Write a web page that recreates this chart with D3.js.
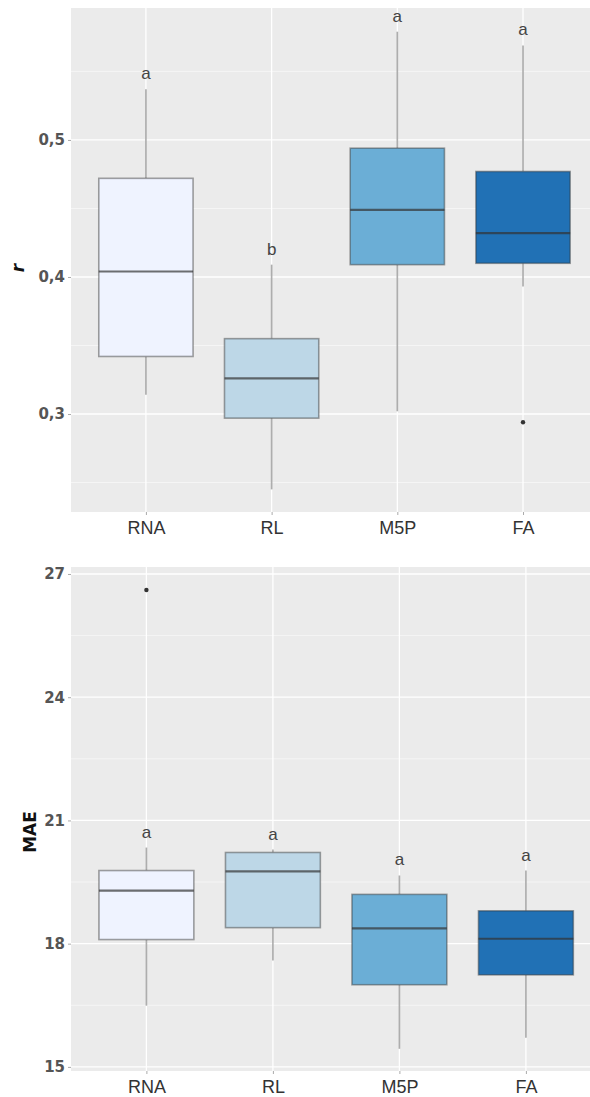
<!DOCTYPE html>
<html>
<head>
<meta charset="utf-8">
<script src="https://cdn.jsdelivr.net/npm/d3@7"></script>
<style>
  html, body { margin: 0; padding: 0; background: #fff; }
  svg { display: block; }
  text { font-family: "Liberation Sans", Arial, sans-serif; }
</style>
</head>
<body>
<div id="chart"></div>
<script>
// Models compared
const categories = ["RNA", "RL", "M5P", "FA"];
const fills = ["#eff3ff", "#bdd7e7", "#6baed6", "#2171b5"];

// Correlation coefficient r: five-number summaries per model
const rMin    = [0.314, 0.245, 0.302, 0.393];
const rQ1     = [0.342, 0.297, 0.409, 0.410];
const rMedian = [0.404, 0.326, 0.449, 0.432];
const rQ3     = [0.472, 0.355, 0.494, 0.477];
const rMax    = [0.537, 0.409, 0.579, 0.569];
const rOutliers = [{ cat: "FA", value: 0.294 }];
const rLetters  = ["a", "b", "a", "a"];
const rTicks    = [0.3, 0.4, 0.5];
const rTickLabels = ["0,3", "0,4", "0,5"];
const rMinor    = [0.25, 0.35, 0.45, 0.55];

// Mean absolute error: five-number summaries per model
const maeMin    = [16.49, 17.59, 15.44, 15.71];
const maeQ1     = [18.10, 18.39, 17.00, 17.24];
const maeMedian = [19.29, 19.76, 18.37, 18.12];
const maeQ3     = [19.78, 20.22, 19.20, 18.80];
const maeMax    = [20.34, 20.29, 19.66, 19.78];
const maeOutliers = [{ cat: "RNA", value: 26.61 }];
const maeLetters  = ["a", "a", "a", "a"];
const maeTicks    = [15, 18, 21, 24, 27];
const maeTickLabels = ["15", "18", "21", "24", "27"];
const maeMinor    = [16.5, 19.5, 22.5, 25.5];

const W = 590, H = 1097;
const svg = d3.select("#chart").append("svg")
  .attr("width", W).attr("height", H);

function panel(opts) {
  const { top, bottom, left, step, domain, stats, outliers, letters,
          ticks, tickLabels, minor, title, titleX, titleY, titleStyle } = opts;
  const right = left + step * 4.2;

  const x = d3.scalePoint().domain(categories).range([left, right]).padding(0.6);
  const y = d3.scaleLinear().domain(domain).range([bottom, top]);

  const g = svg.append("g");

  // panel background
  g.append("rect")
    .attr("x", left + 0.5).attr("y", top)
    .attr("width", right - left).attr("height", bottom - top)
    .attr("fill", "#ebebeb");

  // minor grid
  g.selectAll(".minor").data(minor).join("line")
    .attr("x1", left + 0.5).attr("x2", right)
    .attr("y1", d => y(d)).attr("y2", d => y(d))
    .attr("stroke", "#f5f5f5").attr("stroke-width", 1);

  // major grid
  g.selectAll(".majorY").data(ticks).join("line")
    .attr("x1", left + 0.5).attr("x2", right)
    .attr("y1", d => y(d)).attr("y2", d => y(d))
    .attr("stroke", "#fff").attr("stroke-width", 1.3);
  g.selectAll(".majorX").data(categories).join("line")
    .attr("x1", d => x(d)).attr("x2", d => x(d))
    .attr("y1", top).attr("y2", bottom)
    .attr("stroke", "#fff").attr("stroke-width", 1.3);

  // axes
  const yAxis = d3.axisLeft(y).tickValues(ticks)
    .tickFormat((d, i) => tickLabels[i]).tickSize(3).tickPadding(3);
  const ya = g.append("g").attr("transform", `translate(${left + 0.5},0)`).call(yAxis);
  ya.select(".domain").remove();
  ya.selectAll(".tick line").attr("stroke", "#aaa");
  ya.selectAll(".tick text")
    .attr("fill", "#555").style("font-size", "15px")
    .style("font-family", "'DejaVu Sans', sans-serif").style("font-weight", "bold");

  const xAxis = d3.axisBottom(x).tickSize(3).tickPadding(6);
  const xa = g.append("g").attr("transform", `translate(0,${bottom})`).call(xAxis);
  xa.select(".domain").remove();
  xa.selectAll(".tick line").attr("stroke", "#aaa");
  xa.selectAll(".tick text")
    .attr("fill", "#333").style("font-size", "18px");

  const bw = step * 0.75;
  const rows = categories.map((c, i) => ({
    cat: c, fill: fills[i], min: stats.min[i], q1: stats.q1[i],
    med: stats.med[i], q3: stats.q3[i], max: stats.max[i], letter: letters[i]
  }));

  const lineCol = "#333";
  const boxes = g.selectAll(".box").data(rows).join("g");

  // whiskers
  boxes.append("line")
    .attr("x1", d => x(d.cat)).attr("x2", d => x(d.cat))
    .attr("y1", d => y(d.max)).attr("y2", d => y(d.q3))
    .attr("stroke", lineCol).attr("stroke-opacity", 0.4).attr("stroke-width", 1.6);
  boxes.append("line")
    .attr("x1", d => x(d.cat)).attr("x2", d => x(d.cat))
    .attr("y1", d => y(d.q1)).attr("y2", d => y(d.min))
    .attr("stroke", lineCol).attr("stroke-opacity", 0.4).attr("stroke-width", 1.6);

  // box body
  boxes.append("rect")
    .attr("x", d => x(d.cat) - bw / 2).attr("width", bw)
    .attr("y", d => y(d.q3)).attr("height", d => y(d.q1) - y(d.q3))
    .attr("fill", d => d.fill);
  boxes.append("rect")
    .attr("x", d => x(d.cat) - bw / 2).attr("width", bw)
    .attr("y", d => y(d.q3)).attr("height", d => y(d.q1) - y(d.q3))
    .attr("fill", "none")
    .attr("stroke", lineCol).attr("stroke-opacity", 0.45).attr("stroke-width", 1.6);

  // median
  boxes.append("line")
    .attr("x1", d => x(d.cat) - bw / 2).attr("x2", d => x(d.cat) + bw / 2)
    .attr("y1", d => y(d.med)).attr("y2", d => y(d.med))
    .attr("stroke", lineCol).attr("stroke-opacity", 0.7).attr("stroke-width", 2.2);

  // significance letters
  boxes.append("text")
    .attr("x", d => x(d.cat)).attr("y", d => y(d.max) - 10)
    .attr("text-anchor", "middle")
    .attr("fill", "#444").style("font-size", "17px")
    .text(d => d.letter);

  // outliers
  g.selectAll(".out").data(outliers).join("circle")
    .attr("cx", d => x(d.cat)).attr("cy", d => y(d.value))
    .attr("r", 2.2).attr("fill", "#333");

  // y title
  g.append("text")
    .attr("transform", `translate(${titleX},${titleY}) rotate(-90)`)
    .attr("text-anchor", "middle")
    .attr("fill", "#111")
    .style("font-size", "17px").style("font-weight", "bold")
    .style("font-style", titleStyle)
    .style("font-family", "'DejaVu Sans', sans-serif")
    .text(title);
}

panel({
  top: 8, bottom: 512, left: 70.5, step: 125.7,
  domain: [0.2285, 0.5963],
  stats: { min: rMin, q1: rQ1, med: rMedian, q3: rQ3, max: rMax },
  outliers: rOutliers, letters: rLetters,
  ticks: rTicks, tickLabels: rTickLabels, minor: rMinor,
  title: "r", titleX: 24, titleY: 268, titleStyle: "italic"
});

panel({
  top: 567, bottom: 1071, left: 70.5, step: 126.5,
  domain: [14.9, 27.17],
  stats: { min: maeMin, q1: maeQ1, med: maeMedian, q3: maeQ3, max: maeMax },
  outliers: maeOutliers, letters: maeLetters,
  ticks: maeTicks, tickLabels: maeTickLabels, minor: maeMinor,
  title: "MAE", titleX: 36, titleY: 832, titleStyle: "normal"
});
</script>
</body>
</html>
